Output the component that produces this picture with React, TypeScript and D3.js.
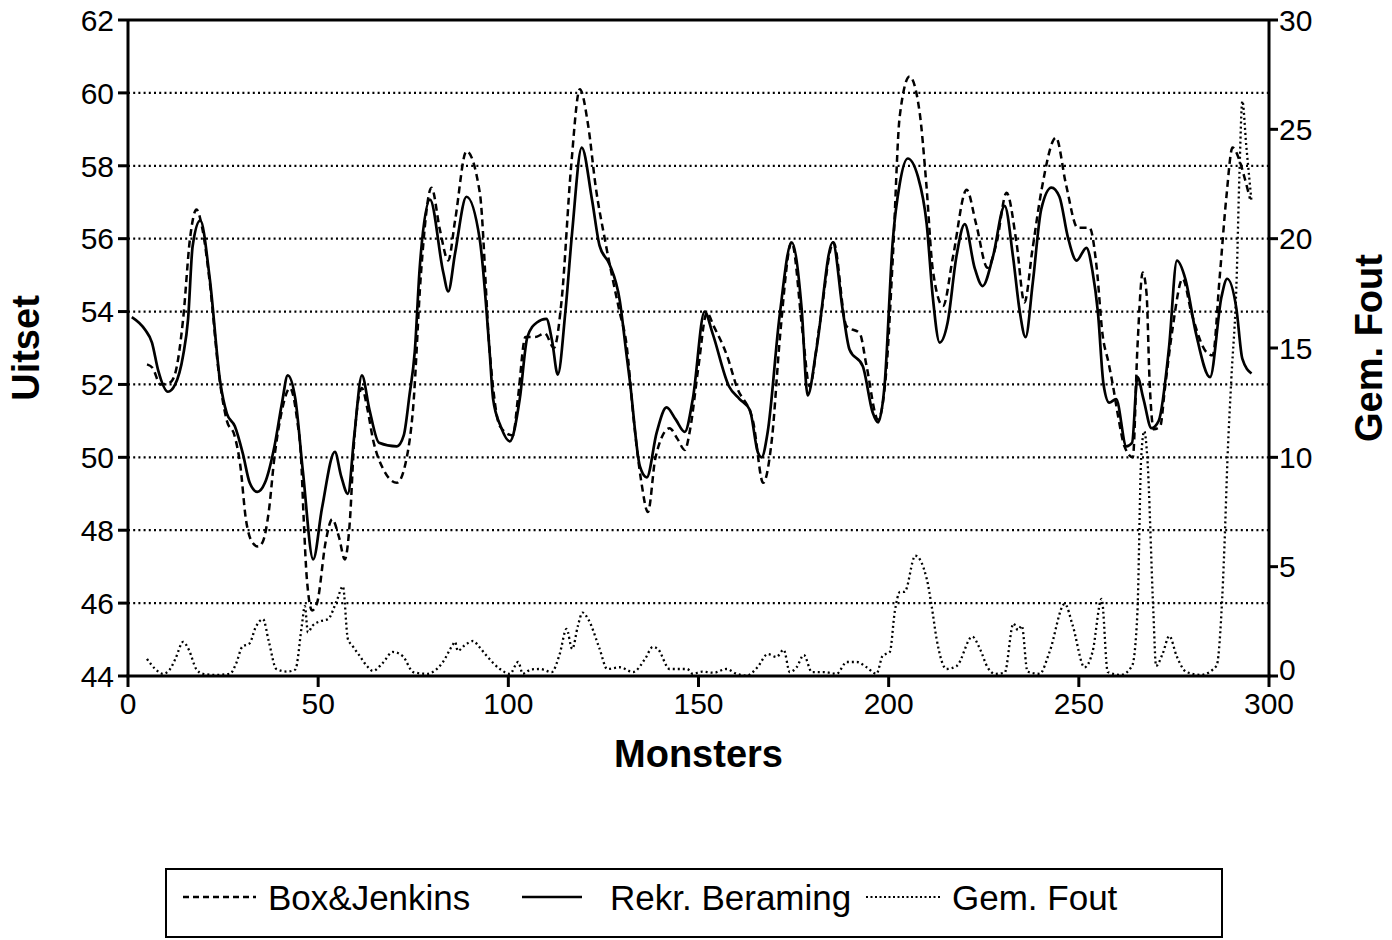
import React from "react";
import * as d3 from "d3";

// Sample index (Monsters) / value pairs for each series
const boxJenkins: [number, number][] = [
  [5, 52.55], [6.5, 52.45], [8.5, 52.0], [11, 52.05], [12.4, 52.3], [14.5, 53.8], [16.3, 56.0], [18, 56.8],
  [19.5, 56.3], [21.5, 54.8], [24, 52.2], [26, 51.0], [28, 50.6], [29.5, 49.8], [31, 48.3], [32.5, 47.7],
  [34.2, 47.55], [35.5, 47.7], [37, 48.5], [38.5, 50.0], [40.5, 51.3], [42.6, 51.9], [44.5, 51.0], [45.5, 50.0],
  [46.2, 48.3], [47, 46.7], [48.4, 45.8], [49.7, 46.0], [52, 47.7], [53.7, 48.3], [55.5, 47.8], [57, 47.2],
  [58.3, 48.2], [59.5, 50.5], [61.5, 51.9], [63, 51.3], [64.4, 50.5], [67, 49.7], [70.7, 49.3], [73.3, 50.0],
  [75, 51.4], [77, 55.0], [79.8, 57.4], [82, 56.25], [84.2, 55.4], [86, 56.5], [89, 58.4], [92.5, 57.26],
  [95.1, 52.9], [97.8, 50.85], [101.2, 50.6], [102.5, 51.6], [104.5, 53.3], [107, 53.3], [109.6, 53.4],
  [112, 53.0], [114, 54.3], [116.5, 57.97], [118.8, 60.1], [121, 59.1], [123, 57.4], [125.4, 55.97],
  [129.3, 53.97], [131, 53.15], [133, 51.0], [135, 49.3], [136.7, 48.5], [138.7, 50.0], [142.4, 50.8],
  [144.5, 50.5], [146.4, 50.2], [147.8, 50.77], [150, 52.5], [152.2, 53.97], [154, 53.6], [157.6, 52.76],
  [160, 51.95], [164.4, 50.96], [167, 49.3], [169.3, 50.5], [171.5, 53.4], [174.5, 55.9], [177.4, 53.4],
  [179.2, 51.95], [181.8, 53.6], [185.5, 55.9], [188.9, 53.6], [192.4, 53.4], [194.2, 52.5], [197.2, 51.04],
  [199.4, 52.4], [201.1, 55.5], [202.9, 59.35], [205.5, 60.45], [208.1, 59.5], [209.9, 57.5], [211.6, 55.15],
  [214.3, 54.15], [216.9, 55.5], [220.5, 57.34], [223, 56.4], [226, 55.2], [228.4, 55.9], [231, 57.26],
  [233.6, 55.9], [235.7, 54.25], [237.8, 55.7], [240.2, 57.34], [244, 58.77], [246.6, 57.5], [249.7, 56.3],
  [252.8, 56.3], [254.7, 55.2], [256.2, 53.4], [257.8, 52.6], [259, 51.95], [260.2, 51.2], [262, 50.3],
  [264.2, 50.0], [265.4, 53.0], [266.8, 55.07], [267.8, 54.5], [268.6, 52.1], [269.7, 50.77], [271.4, 50.85],
  [272.6, 51.86], [274.6, 53.5], [277.3, 54.9], [279.6, 53.97], [283.6, 52.88], [285.2, 52.8], [287, 54.9],
  [288.8, 57.15], [290.4, 58.5], [292.2, 58.16], [293.5, 57.7], [295, 57.1],
];

const rekrBeraming: [number, number][] = [
  [1, 53.85], [4.5, 53.5], [6.3, 53.15], [7.9, 52.4], [10.5, 51.8], [12.4, 52.0], [14.5, 52.8], [15.8, 53.8],
  [17, 55.8], [19, 56.5], [21.5, 54.9], [24.2, 52.1], [26, 51.2], [28.1, 50.85], [30.2, 50.1], [32, 49.3],
  [34, 49.05], [36, 49.3], [38.5, 50.3], [40.5, 51.5], [42, 52.25], [44, 51.6], [46, 49.6], [48.7, 47.2],
  [51, 48.6], [54.4, 50.15], [56, 49.5], [57.8, 49.0], [59.5, 50.6], [61.5, 52.25], [63.5, 51.3], [66, 50.4],
  [70.7, 50.3], [72.5, 50.6], [74, 51.7], [75.4, 52.9], [76.7, 55.2], [79.4, 57.07], [82.9, 55.07],
  [84.2, 54.55], [86, 55.6], [89, 57.15], [92.5, 55.97], [95.1, 52.87], [96, 51.6], [98, 50.85], [100.4, 50.44],
  [103, 51.6], [105, 53.3], [107.5, 53.7], [110, 53.8], [111.5, 53.2], [113, 52.27], [115, 54.0], [116.8, 56.2],
  [119.3, 58.5], [122, 57.07], [124, 55.8], [126.6, 55.3], [129.3, 54.3], [131, 52.88], [132, 52.05],
  [134.6, 49.75], [136.4, 49.45], [139, 50.68], [141.6, 51.37], [144, 51.04], [146.4, 50.7], [148.5, 51.6],
  [151.6, 54.0], [153.7, 53.4], [158, 51.95], [160.8, 51.6], [163.5, 51.3], [165.6, 50.14], [166.6, 50.0],
  [168.2, 50.7], [171.3, 53.86], [174.5, 55.9], [177.1, 54.1], [178.7, 51.7], [181, 52.96], [185.3, 55.9],
  [187.9, 54.05], [189.7, 52.96], [193.2, 52.5], [195.8, 51.23], [197.2, 50.96], [198.9, 51.95], [201.1, 55.97],
  [202.9, 57.5], [205, 58.2], [207.7, 57.7], [210, 56.4], [211.6, 54.4], [213.4, 53.15], [215.5, 53.7],
  [217.8, 55.5], [220, 56.4], [222.6, 55.2], [224.7, 54.7], [227.4, 55.5], [230.5, 56.9], [232.7, 55.5],
  [234.4, 54.05], [236, 53.3], [237.9, 54.8], [240.1, 56.8], [242.8, 57.4], [244.9, 57.15], [247.1, 56.05],
  [249.4, 55.4], [252, 55.75], [253.6, 55.1], [255, 54.0], [256.5, 52.0], [258, 51.5], [259.8, 51.6],
  [262.5, 50.3], [264, 50.4], [265.4, 52.2], [267, 51.6], [269.1, 50.8], [271, 51.0], [273.7, 53.0],
  [275.8, 55.4], [278, 54.9], [280.8, 53.4], [284.5, 52.2], [287.5, 54.4], [289, 54.9], [291.4, 54.1],
  [293, 52.7], [295.4, 52.3],
];

const gemFout: [number, number][] = [
  [5, 0.78], [7, 0.35], [9.2, 0.1], [11, 0.3], [12.5, 0.8], [14.5, 1.56], [16, 1.2], [18, 0.3], [19.7, 0.1],
  [23, 0.05], [26.8, 0.1], [28.5, 0.6], [30, 1.33], [32, 1.5], [33.5, 2.2], [35.5, 2.6], [37, 1.6], [39, 0.32],
  [41.8, 0.2], [44, 0.3], [45.7, 2.3], [46.5, 3.2], [47.3, 2.0], [48.5, 2.3], [50.5, 2.5], [52.6, 2.6],
  [55, 3.5], [56.5, 4.1], [57.8, 1.7], [59, 1.38], [61, 0.9], [62.8, 0.46], [64.4, 0.23], [67, 0.6],
  [69.6, 1.1], [72.3, 0.9], [75, 0.18], [78.5, 0.1], [82.8, 0.64], [85.3, 1.4], [86, 1.56], [86.7, 1.15],
  [88.5, 1.4], [90.7, 1.6], [92.5, 1.3], [94.3, 0.92], [97.8, 0.32], [100.4, 0.1], [102.6, 0.64], [103.8, 0.1],
  [106, 0.3], [108.3, 0.32], [111.4, 0.18], [113.5, 1.0], [115.3, 2.15], [116.8, 1.24], [118.3, 2.3],
  [119.5, 2.9], [121, 2.6], [124, 1.24], [126, 0.32], [129.3, 0.4], [132.8, 0.18], [136, 0.8], [138, 1.33],
  [139.3, 1.24], [142.4, 0.32], [147, 0.32], [148.5, 0.1], [151, 0.2], [154, 0.15], [157.4, 0.32], [160, 0.1],
  [162.7, 0.02], [165.5, 0.4], [168.2, 1.0], [170.5, 0.87], [172.4, 1.2], [174, 0.18], [175.8, 0.4],
  [177.7, 0.96], [179.8, 0.18], [183, 0.18], [186.3, 0.1], [189, 0.64], [191.6, 0.64], [194.2, 0.4],
  [196.8, 0.1], [198.4, 0.92], [200.3, 1.1], [201.6, 2.93], [203, 3.85], [204.2, 3.85], [207, 5.5],
  [210, 4.45], [211.3, 3.2], [212.6, 1.7], [215.2, 0.32], [217.9, 0.46], [222, 1.8], [224, 1.24], [226, 0.4],
  [228, 0.1], [230.5, 0.15], [232.8, 2.4], [234, 2.1], [235, 2.3], [236.5, 0.2], [239.7, 0.1], [242.3, 1.1],
  [246.3, 3.3], [248.4, 2.3], [251.5, 0.4], [253.6, 1.1], [256, 3.53], [257.6, 0.18], [261, 0.05], [264, 0.46],
  [265.4, 2.9], [266.4, 10.0], [267.2, 11.2], [268, 10.0], [269.6, 2.9], [270.3, 0.46], [272, 1.0],
  [273.8, 1.83], [275.7, 0.92], [278.3, 0.18], [282, 0.05], [286.2, 0.46], [287.5, 2.9], [288.3, 6.0],
  [289.1, 10.0], [290.1, 13.6], [291.5, 18.2], [292.2, 22.8], [293, 26.3], [294, 24.3], [294.8, 22.8],
  [295.4, 21.7],
];

const xTicks = [0, 50, 100, 150, 200, 250, 300];
const leftTicks = [44, 46, 48, 50, 52, 54, 56, 58, 60, 62];
const rightTicks = [0, 5, 10, 15, 20, 25, 30];
const gridValues = [46, 48, 50, 52, 54, 56, 58, 60];

const FONT = "'Liberation Sans', Arial, Helvetica, sans-serif";

export default function App() {
  const left = 128;
  const right = 1269;
  const top = 20;
  const bottom = 676;

  const x = d3.scaleLinear().domain([0, 300]).range([left, right]);
  const yL = d3.scaleLinear().domain([44, 62]).range([bottom, top]);
  const yR = d3.scaleLinear().domain([0, 30]).range([bottom, top]);

  const lineL = d3
    .line<[number, number]>()
    .x((d) => x(d[0]))
    .y((d) => yL(d[1]))
    .curve(d3.curveMonotoneX);
  const lineR = d3
    .line<[number, number]>()
    .x((d) => x(d[0]))
    .y((d) => yR(d[1]))
    .curve(d3.curveMonotoneX);

  const legendY = 897;

  return (
    <svg
      width={1392}
      height={940}
      style={{ position: "absolute", left: 0, top: 0, background: "#fff" }}
      fontFamily={FONT}
    >
      <rect x={0} y={0} width={1392} height={940} fill="#fff" />

      {/* horizontal dotted grid */}
      {gridValues.map((v) => (
        <line
          key={`g${v}`}
          x1={left}
          x2={right}
          y1={yL(v)}
          y2={yL(v)}
          stroke="#000"
          strokeWidth={2.2}
          strokeDasharray="2,3.2"
        />
      ))}

      {/* series */}
      <path d={lineR(gemFout) ?? ""} fill="none" stroke="#000" strokeWidth={2.3} strokeDasharray="2,3" />
      <path d={lineL(boxJenkins) ?? ""} fill="none" stroke="#000" strokeWidth={2.5} strokeDasharray="7,4.5" />
      <path d={lineL(rekrBeraming) ?? ""} fill="none" stroke="#000" strokeWidth={2.7} />

      {/* frame */}
      <line x1={left} x2={left} y1={top} y2={bottom + 1} stroke="#000" strokeWidth={3} />
      <line x1={right} x2={right} y1={top} y2={bottom + 1} stroke="#000" strokeWidth={3} />
      <line x1={left} x2={right} y1={top} y2={top} stroke="#000" strokeWidth={3} />
      <line x1={left - 1.5} x2={right + 1.5} y1={bottom} y2={bottom} stroke="#000" strokeWidth={3} />

      {/* left axis */}
      {leftTicks.map((v) => (
        <g key={`l${v}`}>
          <line x1={left - 10} x2={left} y1={yL(v)} y2={yL(v)} stroke="#000" strokeWidth={3} />
          <text x={left - 14} y={yL(v)} dy="0.36em" textAnchor="end" fontSize={30}>
            {v}
          </text>
        </g>
      ))}

      {/* right axis */}
      {rightTicks.map((v) => (
        <g key={`r${v}`}>
          <line x1={right} x2={right + 9} y1={yR(v)} y2={yR(v)} stroke="#000" strokeWidth={3} />
          <text x={right + 10} y={yR(v) - (v === 0 ? 7 : 0)} dy="0.36em" textAnchor="start" fontSize={30}>
            {v}
          </text>
        </g>
      ))}

      {/* bottom axis */}
      {xTicks.map((v) => (
        <g key={`x${v}`}>
          <line x1={x(v)} x2={x(v)} y1={bottom} y2={bottom + 11} stroke="#000" strokeWidth={3} />
          <text x={x(v)} y={bottom + 38} textAnchor="middle" fontSize={30}>
            {v}
          </text>
        </g>
      ))}

      {/* axis titles */}
      <text x={(left + right) / 2} y={767} textAnchor="middle" fontSize={38} fontWeight="bold">
        Monsters
      </text>
      <text
        transform={`translate(25, ${(top + bottom) / 2}) rotate(-90)`}
        textAnchor="middle"
        dy="0.36em"
        fontSize={38}
        fontWeight="bold"
      >
        Uitset
      </text>
      <text
        transform={`translate(1368, ${(top + bottom) / 2}) rotate(-90)`}
        textAnchor="middle"
        dy="0.36em"
        fontSize={38}
        fontWeight="bold"
      >
        Gem. Fout
      </text>

      {/* legend */}
      <rect x={166} y={869} width={1056} height={68} fill="none" stroke="#000" strokeWidth={2} />
      <line x1={183} x2={256} y1={legendY} y2={legendY} stroke="#000" strokeWidth={2.4} strokeDasharray="6,4" />
      <text x={268} y={legendY} dy="0.36em" fontSize={35}>
        Box&amp;Jenkins
      </text>
      <line x1={522} x2={582} y1={legendY} y2={legendY} stroke="#000" strokeWidth={2.7} />
      <text x={610} y={legendY} dy="0.36em" fontSize={35}>
        Rekr. Beraming
      </text>
      <line x1={866} x2={940} y1={legendY} y2={legendY} stroke="#000" strokeWidth={2.2} strokeDasharray="2,2.5" />
      <text x={952} y={legendY} dy="0.36em" fontSize={35}>
        Gem. Fout
      </text>
    </svg>
  );
}
